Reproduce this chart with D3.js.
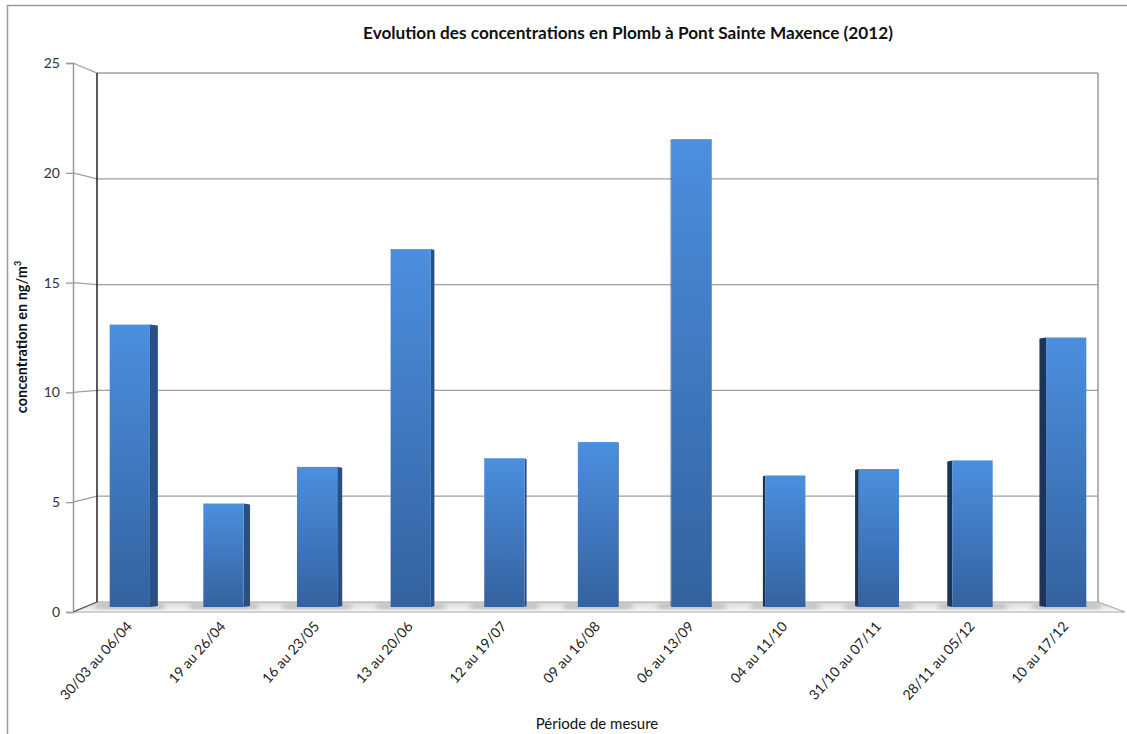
<!DOCTYPE html>
<html>
<head>
<meta charset="utf-8">
<script src="https://cdn.jsdelivr.net/npm/d3@7"></script>
<style>
  body { margin: 0; background: #fff; }
  text { font-family: Lato, "Open Sans", sans-serif; }
</style>
</head>
<body>
<svg id="chart" width="1127" height="734"></svg>
<script>
// data
var periods = ["30/03 au 06/04", "19 au 26/04", "16 au 23/05", "13 au 20/06", "12 au 19/07",
    "09 au 16/08", "06 au 13/09", "04 au 11/10", "31/10 au 07/11", "28/11 au 05/12", "10 au 17/12"];
var plomb = [13.1, 4.8, 6.5, 16.6, 6.9, 7.65, 21.7, 6.1, 6.4, 6.8, 12.5];
var yTicks = [0, 5, 10, 15, 20, 25];

var svg = d3.select("#chart"),
    width = +svg.attr("width"),
    height = +svg.attr("height");

// 3d box: front plane, back wall and the plane the bars sit in
var yFront = d3.scaleLinear().domain([0, 25]).range([612, 63]);
var yBack = d3.scaleLinear().domain([0, 25]).range([602, 73]);
var yMid = d3.scaleLinear().domain([0, 25]).range([607, 68]);
var xFront = [73, 1125], xBack = [97, 1098];

var x = d3.scaleBand().domain(periods).range([83, 1113])
    .paddingInner(0.57).paddingOuter(0.285);

// outer frame
svg.append("rect").attr("x", 7.5).attr("y", 5.5).attr("width", 1140).attr("height", 760)
    .attr("fill", "none").attr("stroke", "#9a9a9a").attr("stroke-width", 1.5);

var defs = svg.append("defs");
var grad = defs.append("linearGradient").attr("id", "barGrad")
    .attr("x1", 0).attr("y1", 0).attr("x2", 0).attr("y2", 1);
grad.append("stop").attr("offset", "0%").attr("stop-color", "#4b8fde");
grad.append("stop").attr("offset", "100%").attr("stop-color", "#3462a0");
var floorGrad = defs.append("linearGradient").attr("id", "floorGrad")
    .attr("x1", 0).attr("y1", 0).attr("x2", 0).attr("y2", 1);
floorGrad.append("stop").attr("offset", "0%").attr("stop-color", "#d8d8d8");
floorGrad.append("stop").attr("offset", "100%").attr("stop-color", "#f8f8f8");
defs.append("filter").attr("id", "blur").append("feGaussianBlur").attr("stdDeviation", 2.5);

// floor
svg.append("path")
    .attr("d", "M" + xFront[0] + "," + yFront(0) + "L" + xBack[0] + "," + yBack(0) +
        "L" + xBack[1] + "," + yBack(0) + "L" + xFront[1] + "," + yFront(0) + "Z")
    .attr("fill", "url(#floorGrad)").attr("stroke", "#a8a8a8").attr("stroke-width", 1.2);

// gridlines: diagonal on the side wall, then flat on the back wall
var grid = svg.append("g").attr("fill", "none").attr("stroke", "#a0a0a0").attr("stroke-width", 1.3);
grid.selectAll("path").data(yTicks.filter(function(d) { return d > 0; })).enter()
    .append("path")
    .attr("d", function(d) {
        return "M" + xFront[0] + "," + yFront(d) + "L" + xBack[0] + "," + yBack(d) +
            "L" + xBack[1] + "," + yBack(d);
    });

// walls edges
svg.append("line").attr("x1", xBack[0]).attr("x2", xBack[0])
    .attr("y1", yBack(25)).attr("y2", yBack(0)).attr("stroke", "#222").attr("stroke-width", 1.5);
svg.append("line").attr("x1", xBack[1]).attr("x2", xBack[1])
    .attr("y1", yBack(25)).attr("y2", yBack(0)).attr("stroke", "#9a9a9a").attr("stroke-width", 1.5);
svg.append("line").attr("x1", xFront[0]).attr("x2", xBack[0])
    .attr("y1", yFront(0)).attr("y2", yBack(0)).attr("stroke", "#555").attr("stroke-width", 1.2);

// y axis on the front plane
var yAxis = svg.append("g").attr("transform", "translate(" + xFront[0] + ",0)")
    .call(d3.axisLeft(yFront).tickValues(yTicks).tickSize(7).tickPadding(6));
yAxis.select(".domain").attr("stroke", "#9a9a9a").attr("stroke-width", 1.5);
yAxis.selectAll(".tick line").attr("stroke", "#9a9a9a").attr("stroke-width", 1.3);
yAxis.selectAll("text").attr("font-size", 14).attr("fill", "#333")
    .style("font-family", "Lato, sans-serif");

// soft shadows on the floor
svg.append("g").attr("filter", "url(#blur)").selectAll("rect").data(plomb).enter()
    .append("rect")
    .attr("x", function(d, i) { return x(periods[i]) - 14; })
    .attr("width", x.bandwidth() + 28)
    .attr("y", yMid(0) - 3).attr("height", 5)
    .attr("fill", "#9a9a9a").attr("opacity", 0.6);

// bars with a shaded side face
var vanishX = 640;
var bars = svg.append("g").selectAll("g").data(plomb).enter().append("g");

bars.append("path")
    .attr("fill", function(d, i) {
        var c = x(periods[i]) + x.bandwidth() / 2;
        return c < vanishX ? "#2a4f85" : "#1b3457";
    })
    .attr("d", function(d, i) {
        var x0 = x(periods[i]), w = x.bandwidth(), c = x0 + w / 2;
        var s = (c - vanishX) * 0.0155;
        var top = yMid(d), bot = yMid(0);
        var edge = s < 0 ? x0 + w : x0;
        // side drawn behind the face, shifted away from the centre
        return "M" + edge + "," + top + "L" + (edge - s) + "," + (top + 1) +
            "L" + (edge - s) + "," + (bot - 1) + "L" + edge + "," + bot + "Z";
    });

bars.append("rect")
    .attr("x", function(d, i) { return x(periods[i]); })
    .attr("width", x.bandwidth())
    .attr("y", function(d) { return yMid(d); })
    .attr("height", function(d) { return yMid(0) - yMid(d); })
    .attr("fill", "url(#barGrad)");

// category labels
svg.append("g").selectAll("text").data(periods).enter().append("text")
    .attr("transform", function(d) {
        return "translate(" + (x(d) + x.bandwidth() / 2 + 3) + ",627) rotate(-48)";
    })
    .attr("text-anchor", "end")
    .attr("font-size", 14)
    .attr("fill", "#222")
    .text(function(d) { return d; });

// titles
svg.append("text").attr("x", 628).attr("y", 39).attr("text-anchor", "middle")
    .attr("font-size", 17.2).attr("font-weight", "bold").attr("fill", "#111")
    .text("Evolution des concentrations en Plomb à Pont Sainte Maxence (2012)");

svg.append("text").attr("x", 597).attr("y", 729).attr("text-anchor", "middle")
    .attr("font-size", 15).attr("fill", "#111")
    .text("Période de mesure");

var yl = svg.append("text").attr("transform", "translate(27,337) rotate(-90)")
    .attr("text-anchor", "middle").attr("font-size", 14.5).attr("font-weight", "bold")
    .attr("fill", "#111");
yl.append("tspan").text("concentration en ng/m");
yl.append("tspan").attr("font-size", 9).attr("dy", -6).text("3");
</script>
</body>
</html>
